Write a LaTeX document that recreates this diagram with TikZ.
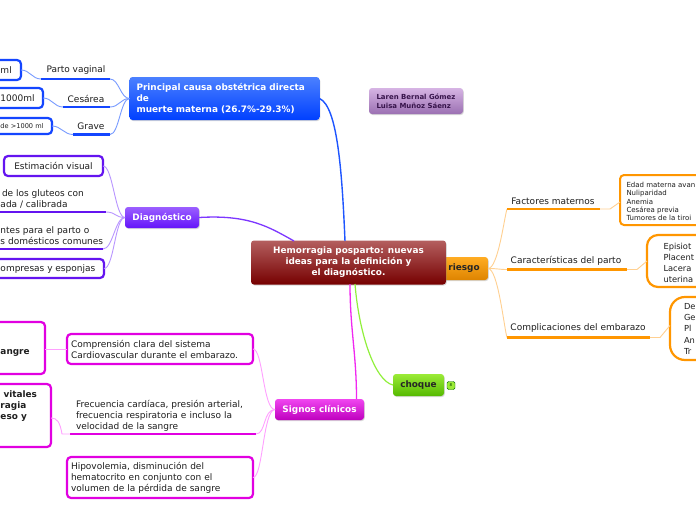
\documentclass[tikz,border=0pt]{standalone}
\usepackage{fontspec}
\setmainfont{DejaVu Sans}
\usetikzlibrary{shadows,calc}
\definecolor{blT}{RGB}{75,128,255}
\definecolor{blB}{RGB}{0,64,255}
\definecolor{blMain}{RGB}{30,85,255}
\definecolor{blSub}{RGB}{120,155,255}
\definecolor{blBord}{RGB}{20,70,255}
\definecolor{puT}{RGB}{155,95,255}
\definecolor{puB}{RGB}{100,20,250}
\definecolor{puMain}{RGB}{125,55,255}
\definecolor{puSub}{RGB}{185,150,255}
\definecolor{puBord}{RGB}{100,20,240}
\definecolor{maT}{RGB}{240,70,240}
\definecolor{maB}{RGB}{190,0,190}
\definecolor{maMain}{RGB}{240,40,240}
\definecolor{maSub}{RGB}{255,160,255}
\definecolor{maBord}{RGB}{225,0,225}
\definecolor{grT}{RGB}{155,235,55}
\definecolor{grB}{RGB}{85,185,0}
\definecolor{grMain}{RGB}{145,240,60}
\definecolor{orT}{RGB}{255,172,35}
\definecolor{orB}{RGB}{222,132,0}
\definecolor{orBord}{RGB}{255,150,0}
\definecolor{orSub}{RGB}{255,208,145}
\definecolor{reT}{RGB}{180,95,95}
\definecolor{reB}{RGB}{118,0,0}
\definecolor{auT}{RGB}{214,180,228}
\definecolor{auB}{RGB}{155,112,178}
\definecolor{auTxt}{RGB}{55,20,75}
\definecolor{txt}{RGB}{30,30,30}
\tikzset{
  every node/.style={inner sep=0pt, outer sep=0pt},
  topic/.style={rounded corners=3pt,
    font=\bfseries\fontsize{8.9}{11}\selectfont,
    drop shadow={shadow xshift=0.8pt, shadow yshift=-1pt, opacity=0.3}},
  lbl/.style={font=\fontsize{9}{11}\selectfont, text=txt},
  lblsm/.style={font=\fontsize{8.3}{11}\selectfont, text=txt},
  small/.style={font=\fontsize{7}{8.3}\selectfont, text=txt},
  boldlbl/.style={font=\bfseries\fontsize{8.9}{11}\selectfont, text=txt},
  blbox/.style={draw=blBord, line width=2.2pt, rounded corners=4pt, fill=white},
  pubox/.style={draw=puBord, line width=2.2pt, rounded corners=4pt, fill=white},
  mabox/.style={draw=maBord, line width=2.2pt, rounded corners=4pt, fill=white},
  orbox/.style={draw=orBord, line width=2pt, fill=white},
  blul/.style={draw=blBord, line width=2.3pt},
  puul/.style={draw=puBord, line width=2.3pt},
  maul/.style={draw=maBord, line width=2.3pt},
  orul/.style={draw=orBord, line width=2.3pt},
  blsub/.style={draw=blSub, line width=0.9pt},
  pusub/.style={draw=puSub, line width=0.9pt},
  masub/.style={draw=maSub, line width=0.9pt},
  orsub/.style={draw=orSub, line width=0.9pt},
}
\begin{document}
\begin{tikzpicture}[x=1pt,y=-1pt]
\useasboundingbox (0,0) rectangle (696,520);
\fill[white] (0,0) rectangle (696,520);
\clip (0,0) rectangle (696,520);

\coordinate (Ctop1) at (345,241);
\coordinate (Ctop2) at (294,241);
\coordinate (Cbot1) at (350,284);
\coordinate (Cbot2) at (355,284);

% ---------- riesgo (behind central) ----------
\node[topic, top color=orT, bottom color=orB, minimum width=100pt, minimum height=23pt, anchor=east] (R) at (488,268.5) {};
\node[boldlbl, text=black!85] (Rt) at (464,268.5) {riesgo};

% ---------- central ----------
\node[topic, top color=reT, bottom color=reB, minimum width=195pt, minimum height=44pt, align=center, text=white] (C) at (348.5,262.5) {Hemorragia posparto: nuevas\\ideas para la definición y\\el diagnóstico.};

% ---------- author ----------
\node[topic, top color=auT, bottom color=auB, minimum width=94pt, minimum height=26pt, align=left, text=auTxt, font=\bfseries\fontsize{6.95}{9.4}\selectfont] (A) at (416,101) {Laren Bernal Gómez\\Luisa Muñoz Sáenz};

% ---------- blue branch ----------
\node[topic, top color=blT, bottom color=blB, minimum width=190pt, minimum height=43pt, text width=176pt, align=left, text=white] (B) at (224.5,98.5) {Principal causa obstétrica directa\\de\\muerte materna (26.7\%-29.3\%)};
\draw[blMain, line width=1.4pt] (B.east) .. controls +(18,8) and +(-3,-70) .. (Ctop1);

\node[lbl] (pv) at (76,70) {Parto vaginal};
\coordinate (pvL) at (41,79); \coordinate (pvR) at (110,79);
\node[lbl] (ce) at (86,99) {Cesárea};
\coordinate (ceL) at (63,107); \coordinate (ceR) at (110,107);
\node[lbl] (gr) at (91,126) {Grave};
\coordinate (grL) at (73,134.5); \coordinate (grR) at (110,134.5);

\draw[blsub] (B.west) .. controls +(-9,0) and +(9,0) .. (pvR);
\draw[blsub] (B.west) .. controls +(-9,0) and +(9,0) .. (ceR);
\draw[blsub] (B.west) .. controls +(-9,0) and +(9,0) .. (grR);

\node[blbox, minimum width=60pt, minimum height=20pt, anchor=east] (b1) at (21,70) {};
\node[lbl, anchor=west] (b1t) at (0.5,70) {ml};
\node[blbox, minimum width=60pt, minimum height=20pt, anchor=east] (b2) at (43,98) {};
\node[lbl, anchor=west] (b2t) at (0.5,98) {1000ml};
\node[blbox, minimum width=80pt, minimum height=16pt, anchor=east] (b3) at (52,126) {};
\node[small, font=\fontsize{6.6}{8}\selectfont, anchor=west] (b3t) at (0.5,126.5) {de >1000 ml};

\draw[blsub] (b1.east) .. controls +(9,0) and +(-9,0) .. (pvL);
\draw[blsub] (b2.east) .. controls +(9,0) and +(-9,0) .. (ceL);
\draw[blsub] (b3.east) .. controls +(9,0) and +(-9,0) .. (grL);
\draw[blul] (pvL) -- (pvR);
\draw[blul] (ceL) -- (ceR);
\draw[blul] (grL) -- (grR);

% ---------- purple branch ----------
\node[topic, top color=puT, bottom color=puB, minimum width=74pt, minimum height=21pt, text=white] (D) at (162,217.5) {Diagnóstico};
\draw[puMain, line width=1.3pt] (D.east) .. controls +(50,-3) and +(-25,-14) .. (Ctop2);

\node[pubox, minimum width=99pt, minimum height=20pt] (d1) at (53.5,166) {};
\node[lbl] (d1t) at (53.5,166) {Estimación visual};
\node[lbl, anchor=base west] (d2a) at (2,196.5) {de los gluteos con};
\node[lbl, anchor=base west] (d2b) at (0.5,207) {ada / calibrada};
\coordinate (d2L) at (-5,212); \coordinate (d2R) at (106,212);
\node[lbl, anchor=base west] (d3a) at (0.5,233.5) {ntes para el parto o};
\node[lbl, anchor=base west] (d3b) at (0.5,244.5) {s domésticos comunes};
\coordinate (d3L) at (-5,249); \coordinate (d3R) at (103,249);
\node[pubox, minimum width=120pt, minimum height=19pt, anchor=east] (d4) at (104,268.5) {};
\node[lbl, anchor=west] (d4t) at (0.5,269) {ompresas y esponjas};

\draw[pusub] (D.west) .. controls +(-10,0) and +(10,0) .. (d1.east);
\draw[pusub] (D.west) .. controls +(-10,0) and +(10,0) .. (d2R);
\draw[pusub] (D.west) .. controls +(-10,0) and +(10,0) .. (d3R);
\draw[pusub] (D.west) .. controls +(-10,0) and +(10,0) .. (d4.east);
\draw[puul] (d2L) -- (d2R);
\draw[puul] (d3L) -- (d3R);

% ---------- magenta branch ----------
\node[topic, top color=maT, bottom color=maB, minimum width=89pt, minimum height=21pt, text=white] (S) at (319.5,409.5) {Signos clínicos};
\draw[maMain, line width=1.3pt] ([xshift=37pt]S.north) .. controls +(0,-45) and +(0,45) .. (Cbot1);

\node[mabox, minimum width=186pt, minimum height=30pt, text width=178pt, align=left, lbl] (s1) at (160,349) {Comprensión clara del sistema\\Cardiovascular durante el embarazo.};
\node[lbl, text width=182pt, align=left, anchor=west] (s2) at (76,415.5) {Frecuencia cardíaca, presión arterial,\\frecuencia respiratoria e incluso la\\velocidad de la sangre};
\coordinate (s2L) at (70,434); \coordinate (s2R) at (256,434);
\node[mabox, minimum width=186pt, minimum height=41pt, text width=178pt, align=left, lbl] (s3) at (160,477.5) {Hipovolemia, disminución del\\hematocrito en conjunto con el\\volumen de la pérdida de sangre};

\draw[masub] (S.west) .. controls +(-12,0) and +(10,0) .. (s1.east);
\draw[masub] (S.west) .. controls +(-12,0) and +(10,0) .. (s2R);
\draw[masub] (S.west) .. controls +(-12,0) and +(10,0) .. (s3.east);
\draw[maul] (s2L) -- (s2R);

\node[mabox, minimum width=80pt, minimum height=52pt, anchor=east] (L1) at (45,348) {};
\node[boldlbl, anchor=west] (L1t) at (0.5,353) {angre};
\node[mabox, minimum width=80pt, minimum height=63pt, anchor=east] (L2) at (51,415.5) {};
\node[boldlbl, anchor=base east] (L2a) at (37,397.5) {vitales};
\node[boldlbl, anchor=base west] (L2b) at (0.5,408.5) {ragia};
\node[boldlbl, anchor=base west] (L2c) at (0.5,419.5) {eso y};

\draw[masub] (s1.west) -- (s1.west -| L1.east);
\draw[masub] (s2L) -- ++(-8,0) .. controls +(-2,-12) and +(6,0) .. ([yshift=-2.5pt]L2.east);

% ---------- green branch ----------
\node[topic, top color=grT, bottom color=grB, minimum width=51pt, minimum height=22pt, text=black!85] (Q) at (418.5,385) {choque};
\draw[grMain, line width=1.2pt] (Cbot2) .. controls +(4,50) and +(-18,-4) .. (Q.west);
\node[draw=green!40!black, fill=grT, rounded corners=1.5pt, minimum width=8pt, minimum height=8pt, font=\fontsize{4}{4}\selectfont, text=green!25!black] (Qb) at (451,385.5) {8};

% ---------- orange branch ----------
\node[lbl] (fm) at (553,201) {Factores maternos};
\coordinate (fmL) at (507,209); \coordinate (fmR) at (600,209);
\node[lbl] (cp) at (566,261) {Características del parto};
\coordinate (cpL) at (507,269.5); \coordinate (cpR) at (627,269.5);
\node[lbl] (cm) at (578,328) {Complicaciones del embarazo};
\coordinate (cmL) at (507,337.5); \coordinate (cmR) at (650,337.5);

\draw[orsub] (R.east) .. controls +(10,0) and +(-3,10) .. (fmL);
\draw[orsub] (R.east) .. controls +(10,0) and +(-8,0) .. (cpL);
\draw[orsub] (R.east) .. controls +(10,0) and +(-3,-10) .. (cmL);

\node[orbox, rounded corners=4pt, minimum width=100pt, minimum height=50pt, anchor=west] (o1) at (620,200) {};
\node[small, anchor=base west] (o1a) at (626.5,187.6) {Edad materna avan};
\node[small, anchor=base west] (o1b) at (626.5,195.9) {Nuliparidad};
\node[small, anchor=base west] (o1c) at (626.5,204.2) {Anemia};
\node[small, anchor=base west] (o1d) at (626.5,212.5) {Cesárea previa};
\node[small, anchor=base west] (o1e) at (626.5,220.8) {Tumores de la tiroi};

\node[orbox, line width=2.2pt, rounded corners=11pt, minimum width=80pt, minimum height=52pt, anchor=west] (o2) at (647,261) {};
\node[lblsm, anchor=base west] (o2a) at (663.5,249.5) {Episiot};
\node[lblsm, anchor=base west] (o2b) at (663.5,260.5) {Placent};
\node[lblsm, anchor=base west] (o2c) at (663.5,271.5) {Lacera};
\node[lblsm, anchor=base west] (o2d) at (663.5,282.5) {uterina};

\node[orbox, line width=2.2pt, rounded corners=15pt, minimum width=80pt, minimum height=63pt, anchor=west] (o3) at (670,328.5) {};
\node[lblsm, anchor=base west] (o3a) at (684,309.5) {De};
\node[lblsm, anchor=base west] (o3b) at (684,320.5) {Ge};
\node[lblsm, anchor=base west] (o3c) at (684,331.5) {Pl};
\node[lblsm, anchor=base west] (o3d) at (684,343) {An};
\node[lblsm, anchor=base west] (o3e) at (684,354.5) {Tr};

\draw[orsub] (fmR) -- ++(10,0) -- ([yshift=-2pt]o1.west);
\draw[orsub] (cpR) -- ++(10,0) -- (o2.west);
\draw[orsub] (cmR) -- ++(10,0) -- ([yshift=3pt]o3.west);
\draw[orul] (fmL) -- (fmR);
\draw[orul] (cpL) -- (cpR);
\draw[orul] (cmL) -- (cmR);
\end{tikzpicture}
\end{document}
